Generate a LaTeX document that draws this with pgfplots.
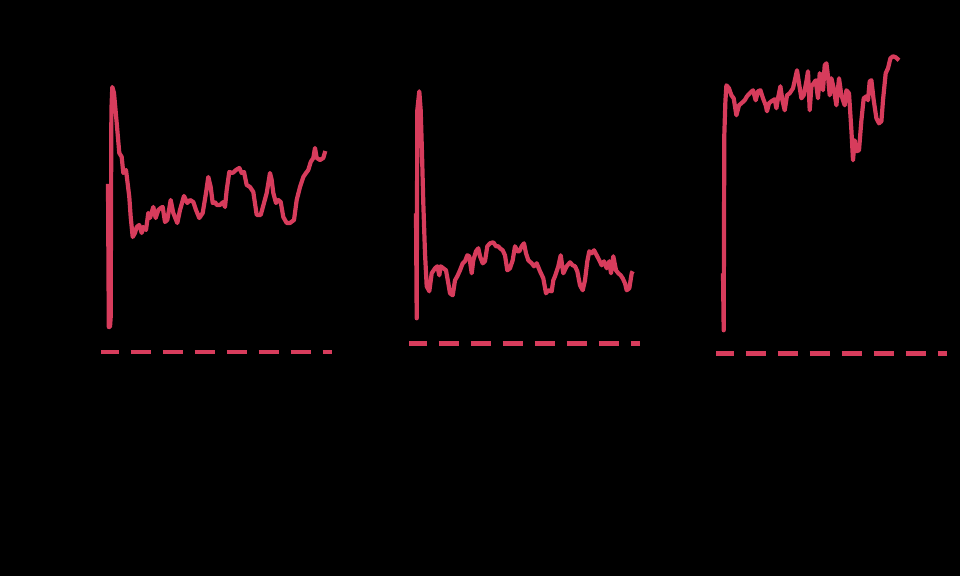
\documentclass[border=0pt]{standalone}
\usepackage{pgfplots}
\pgfplotsset{compat=1.18}
\definecolor{mred}{RGB}{215,60,92}
\pgfplotsset{
  panel/.style={
    hide axis, scale only axis, clip=false,
    width=115.5pt, height=156pt,
    anchor=south west,
    xmin=-7, xmax=224,
  },
  series/.style={color=mred, line width=2.1pt, line join=round},
  base/.style={color=mred, line width=2.3pt, dash pattern=on 10pt off 6pt, dash phase=1.2pt},
}
\begin{document}
\begin{tikzpicture}
\fill[black] (0,0) rectangle (480pt,288pt);
% panel 1
\begin{axis}[panel, at={(50.5pt,107pt)}, ymin=-10, ymax=302]
  \addplot[series] coordinates {(0,168) (0.8,25) (2,25) (2.7,35) (3.1,168) (3.4,242) (4.3,265) (6,259) (8.7,229) (11.3,199) (13.7,195) (15.3,179) (18,182) (21.3,155) (22.7,135) (24.7,115) (27,119) (28.7,125) (31.3,127) (33.7,119) (35.3,125) (38,122) (40.3,139) (42,134) (45.3,145) (47.7,134) (50.3,142) (52.7,144) (54.7,145) (57,130) (59.3,132) (62.7,152) (65.3,139) (69.3,129) (72,142) (76,156) (79.3,149) (82,152) (85.3,150) (88,142) (91.3,134) (94.7,139) (98,159) (100.3,175) (102.7,165) (104.7,149) (107,150) (108.7,147) (112,147) (115.3,150) (117,145) (118.7,162) (121.3,180) (124.7,179) (128,182) (131.3,184) (133.7,179) (136,180) (138.7,167) (142,165) (145.3,160) (148.7,137) (152.7,137) (156,149) (158.7,159) (162,179) (163.7,172) (165.3,159) (168,149) (170.3,152) (172.7,150) (175.3,135) (178.7,129) (182,129) (186,132) (188.7,152) (192,165) (195.3,175) (198,179) (200.3,182) (202.7,190) (205.3,194) (207,204) (208.7,194) (212,192) (215.3,194) (217.3,201)};
  \addplot[base] coordinates {(-7,0) (224,0)};
\end{axis}
% panel 2
\begin{axis}[panel, at={(204.5pt,107pt)}, ymin=-18.7, ymax=293.3]
  \addplot[series] coordinates {(0,130) (0.7,25) (1.3,233) (3.3,252) (4.7,233) (6,190) (7.3,140) (9,90) (10.7,57) (13.3,52) (15.7,70) (19,75) (21.3,77) (23.3,68) (24.7,77) (27.3,75) (30,73) (32.3,60) (34,50) (36.7,48) (39,63) (41.3,67) (44,73) (46.7,80) (49,82) (51.3,88) (53.3,87) (55.7,70) (57.3,83) (60,92) (62.3,95) (64,87) (66.7,80) (69,82) (71.3,97) (74,100) (77.3,101) (80,97) (82.3,97) (84,95) (86.7,93) (89,88) (91.3,73) (94,75) (96.7,83) (99,97) (101.3,92) (103.3,92) (105.7,97) (108,100) (110,90) (112.3,83) (115.7,80) (118,77) (120.7,80) (124,72) (127.3,65) (130,50) (132.3,53) (135.7,52) (137.3,63) (139,67) (142.3,77) (144.7,88) (147.3,70) (150.7,77) (154,81) (156.7,78) (159,77) (161.3,72) (164,58) (166.7,53) (169,63) (171.3,82) (173.3,92) (175.7,90) (178,93) (180.7,88) (183.3,83) (185.7,78) (188,82) (190.7,75) (193.3,82) (195,70) (197.3,87) (200,73) (202.3,70) (204.7,68) (206.7,65) (209,60) (210.7,53) (213.3,55) (215.7,70) (216.7,72)};
  \addplot[base] coordinates {(-7,0) (224,0)};
\end{axis}
% panel 3
\begin{axis}[panel, at={(358pt,107pt)}, ymin=-8.7, ymax=303.3]
  \addplot[series] coordinates {(0,80) (0.7,23) (1.3,218) (2.4,252) (3.4,268) (6,265) (8.4,258) (10.7,255) (13.4,238) (16,248) (18.4,250) (21.7,253) (24,257) (26.7,260) (30,263) (32.7,253) (35,262) (37.4,263) (40,255) (42.7,248) (44,242) (46,250) (48.4,252) (51.7,254) (53.4,245) (55,255) (57.4,267) (59.4,253) (61.7,243) (64,258) (66.7,260) (70,265) (72.7,277) (74,283) (76,270) (78.4,255) (80.7,258) (83.4,272) (85,282) (86.7,243) (88.4,267) (90.7,270) (92.7,273) (95,255) (96.7,280) (98.4,277) (100,263) (101.7,288) (103.4,290) (105,277) (106.7,258) (108.4,275) (110.7,265) (113.4,248) (116,275) (118.4,258) (121.7,248) (123.4,263) (126,260) (128.4,223) (130,193) (131.7,213) (133.4,202) (136,203) (138.4,233) (140.7,255) (143.4,257) (145,253) (146.7,272) (148.4,273) (150.7,253) (153.4,235) (156,230) (158.4,232) (160,253) (162.7,280) (165,285) (167.4,295) (170,297) (172.7,296) (176,293)};
  \addplot[base] coordinates {(-7,0) (224,0)};
\end{axis}
\end{tikzpicture}
\end{document}
